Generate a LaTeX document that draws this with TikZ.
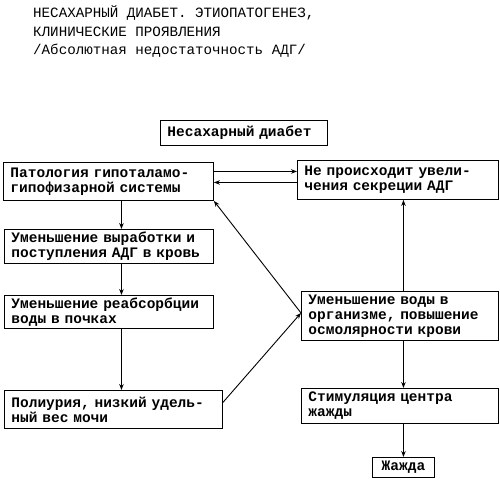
\documentclass[tikz,border=0pt]{standalone}
\usepackage{fontspec}
\setmainfont{Liberation Mono}
\usetikzlibrary{arrows.meta}
\newcommand{\boxfont}{\fontsize{14.5}{15}\selectfont\bfseries}
\newcommand{\titlefont}{\fontsize{14.2}{15}\selectfont}
\begin{document}
\begin{tikzpicture}[x=1pt,y=-1pt,
  box/.style={draw,line width=0.9pt,align=left,anchor=north west,inner xsep=7pt,inner ysep=0pt,font=\boxfont},
  arr/.style={line width=0.9pt,-{Stealth[length=6pt,width=4.5pt]}},
  ttl/.style={anchor=west,inner sep=0pt,font=\titlefont}]
\useasboundingbox (0,0) rectangle (500,480);
\node[ttl] (t1) at (33,13) {НЕСАХАРНЫЙ ДИАБЕТ. ЭТИОПАТОГЕНЕЗ,};
\node[ttl] (t2) at (33,32) {КЛИНИЧЕСКИЕ ПРОЯВЛЕНИЯ};
\node[ttl] (t3) at (33,51) {/Абсолютная недостаточность АДГ/};

\node[box,minimum width=167pt,minimum height=25pt,text width=153pt] (nd) at (160,120) {Несахарный диабет};
\node[box,minimum width=210pt,minimum height=38pt,text width=196pt] (pat) at (3,162) {Патология гипоталамо-\\гипофизарной системы};
\node[box,minimum width=201pt,minimum height=39pt,text width=187pt] (ne) at (297,160) {Не происходит увели-\\чения секреции АДГ};
\node[box,minimum width=209pt,minimum height=34pt,text width=195pt] (vyr) at (4,229) {Уменьшение выработки и\\поступления АДГ в кровь};
\node[box,minimum width=209pt,minimum height=33pt,text width=195pt] (reab) at (4,295) {Уменьшение реабсорбции\\воды в почках};
\node[box,minimum width=218pt,minimum height=38pt,text width=204pt] (pol) at (4,390) {Полиурия, низкий удель-\\ный вес мочи};
\node[box,minimum width=197pt,minimum height=49pt,text width=183pt] (vody) at (301,291) {Уменьшение воды в\\организме, повышение\\осмолярности крови};
\node[box,minimum width=197pt,minimum height=35pt,text width=183pt] (stim) at (301,388) {Стимуляция центра\\жажды};
\node[box,align=center,minimum width=62pt,minimum height=20pt,text width=48pt] (zh) at (372,457) {Жажда};

\draw[arr] ([yshift=10pt]pat.east) -- ([yshift=10pt]pat.east -| ne.west);
\draw[arr] ([yshift=-1pt]pat.east -| ne.west) -- ([yshift=-1pt]pat.east);
\draw[arr] ([xshift=13pt]pat.south) -- ([xshift=13pt]pat.south |- vyr.north);
\draw[arr] ([xshift=12.5pt]vyr.south) -- ([xshift=12.5pt]vyr.south |- reab.north);
\draw[arr] ([xshift=12.5pt]reab.south) -- ([xshift=12.5pt]reab.south |- pol.north);
\draw[arr] ([yshift=3pt]vody.west) -- (pat.south east);
\draw[arr] ([yshift=7pt]pol.east) -- ([yshift=3pt]vody.west);
\draw[arr] ([xshift=3.5pt]vody.north) -- ([xshift=3.5pt]vody.north |- ne.south);
\draw[arr] ([xshift=3.5pt]vody.south) -- ([xshift=3.5pt]vody.south |- stim.north);
\draw[arr] (stim.south -| zh.north) -- (zh.north);
\end{tikzpicture}
\end{document}
